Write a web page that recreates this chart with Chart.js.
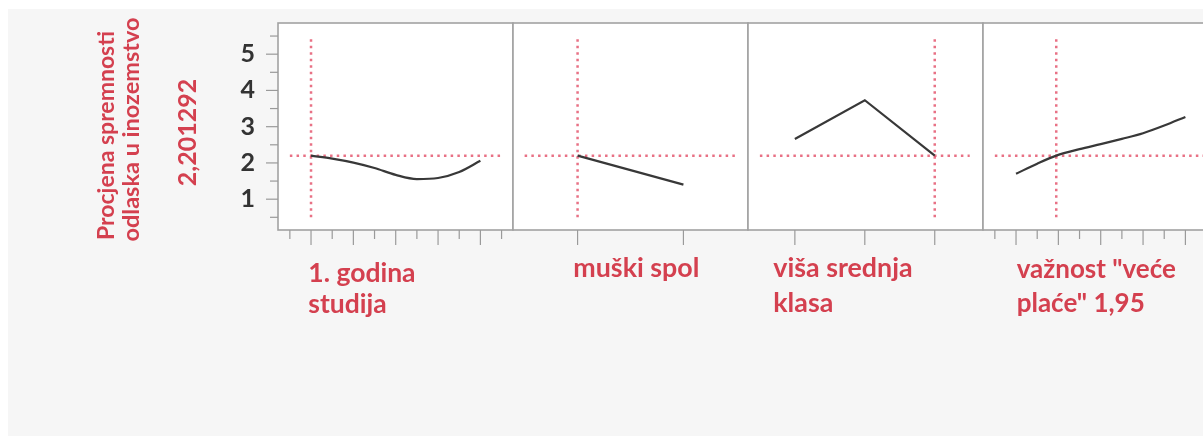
<!DOCTYPE html>
<html>
<head>
<meta charset="utf-8">
<script src="https://cdn.jsdelivr.net/npm/chart.js@4.4.1/dist/chart.umd.min.js"></script>
<style>
  html, body { margin: 0; padding: 0; background: #ffffff; overflow: hidden; width: 1203px; height: 436px; }
  #stage { position: relative; width: 1240px; height: 436px; }
  #backdrop { position: absolute; left: 8px; top: 9px; width: 1232px; height: 427px; background: #f6f6f6; }
  canvas { position: absolute; top: 0; }
</style>
</head>
<body>
<div id="stage">
  <div id="backdrop"></div>
  <canvas id="pYear" width="514" height="436" style="left:0px"></canvas>
  <canvas id="pGender" width="237" height="436" style="left:512px"></canvas>
  <canvas id="pClass" width="237" height="436" style="left:747px"></canvas>
  <canvas id="pPay" width="237" height="436" style="left:982px"></canvas>
</div>
<script>
// Predicted response at the current factor settings
const predictedValue = 2.201292;

// Response axis
const responseRange = [0.15, 5.86];
const responseTickLabels = ['1', '2', '3', '4', '5'];

// 1. godina studija
const yearX = [1, 1.5, 2, 2.5, 3, 3.5, 4, 4.5, 5];
const yearY = [2.201292, 2.12, 2.01, 1.86, 1.67, 1.555, 1.585, 1.75, 2.06];
const yearCurrent = 1;
const yearRange = [0.22, 5.77];

// muški spol
const genderX = [0, 1];
const genderY = [2.201292, 1.40];
const genderCurrent = 0;
const genderRange = [-0.61, 1.61];

// viša srednja klasa
const classX = [0, 1, 2];
const classY = [2.66, 3.73, 2.201292];
const classCurrent = 2;
const classRange = [-0.67, 2.69];

// važnost "veće plaće"
const payX = [1, 1.5, 1.95, 2.5, 3, 3.5, 4, 4.5, 5];
const payY = [1.70, 1.98, 2.201292, 2.38, 2.52, 2.665, 2.82, 3.03, 3.27];
const payCurrent = 1.95;
const payRange = [0.22, 5.77];

const RED = '#d4404f';
const CROSS = 'rgba(226, 78, 102, 0.8)';
const FRAME = '#a2a2a2';
const TICK = '#9a9a9a';
const FONT = 'Lato, "Open Sans", sans-serif';

const toPoints = (xs, ys) => xs.map((x, i) => ({ x, y: ys[i] }));

// White plotting panel with a grey frame
const framePlugin = {
  id: 'panelFrame',
  beforeDraw(chart) {
    const { ctx, chartArea: a } = chart;
    ctx.save();
    ctx.fillStyle = '#ffffff';
    ctx.fillRect(a.left, a.top, a.right - a.left, a.bottom - a.top);
    ctx.restore();
  },
  afterDraw(chart) {
    const { ctx, chartArea: a } = chart;
    ctx.save();
    ctx.strokeStyle = FRAME;
    ctx.lineWidth = 1.6;
    ctx.strokeRect(a.left, a.top, a.right - a.left, a.bottom - a.top);
    ctx.restore();
  }
};

// Tick marks: longer on whole values, shorter on halves
const tickPlugin = {
  id: 'profileTicks',
  afterDraw(chart) {
    const { ctx, chartArea: a } = chart;
    const isWhole = v => Math.abs(v - Math.round(v)) < 1e-6;
    ctx.save();
    ctx.strokeStyle = TICK;
    ctx.lineWidth = 1.2;
    const xs = chart.scales.x;
    xs.ticks.forEach(t => {
      const px = xs.getPixelForValue(t.value);
      const len = isWhole(t.value) ? 15 : 9;
      ctx.beginPath();
      ctx.moveTo(px, a.bottom);
      ctx.lineTo(px, a.bottom + len);
      ctx.stroke();
    });
    const ys = chart.scales.y;
    if (ys.options.display) {
      ys.ticks.forEach(t => {
        const py = ys.getPixelForValue(t.value);
        const len = isWhole(t.value) ? 12 : 8;
        ctx.beginPath();
        ctx.moveTo(a.left, py);
        ctx.lineTo(a.left - len, py);
        ctx.stroke();
      });
    }
    ctx.restore();
  }
};

// Factor names and response title
const textPlugin = {
  id: 'profileText',
  afterDraw(chart, args, opts) {
    const { ctx, chartArea: a } = chart;
    ctx.save();
    ctx.fillStyle = RED;
    (opts.items || []).forEach(it => {
      ctx.save();
      ctx.font = `bold ${it.size}px ${FONT}`;
      ctx.translate(a.left + it.dx, it.y);
      if (it.rotate) ctx.rotate(-Math.PI / 2);
      ctx.textAlign = it.align || 'left';
      ctx.textBaseline = it.baseline || 'alphabetic';
      ctx.fillText(it.text, 0, 0);
      ctx.restore();
    });
    ctx.restore();
  }
};

function buildPanel(id, opt) {
  const curve = {
    data: toPoints(opt.xs, opt.ys),
    borderColor: '#383838',
    borderWidth: 2.2,
    pointRadius: 0,
    fill: false,
    tension: opt.smooth ? 0.4 : 0,
    cubicInterpolationMode: opt.smooth ? 'monotone' : 'default'
  };
  const crossH = {
    data: [{ x: opt.crossFrom, y: predictedValue }, { x: opt.crossTo, y: predictedValue }],
    borderColor: CROSS,
    borderWidth: 2.5,
    borderDash: [2.5, 4.2],
    pointRadius: 0,
    fill: false
  };
  const crossV = {
    data: [{ x: opt.current, y: 0.5 }, { x: opt.current, y: 5.5 }],
    borderColor: CROSS,
    borderWidth: 2.5,
    borderDash: [2.5, 4.0],
    pointRadius: 0,
    fill: false
  };
  return new Chart(document.getElementById(id), {
    type: 'line',
    data: { datasets: [curve, crossV, crossH] },
    options: {
      responsive: false,
      animation: false,
      events: [],
      layout: { padding: { left: opt.padLeft, right: 1, top: 23, bottom: 0 } },
      scales: {
        x: {
          type: 'linear',
          min: opt.range[0],
          max: opt.range[1],
          grid: { display: false, drawTicks: false },
          border: { display: false },
          ticks: { display: false, stepSize: opt.step, includeBounds: false, autoSkip: false },
          afterFit: s => { s.height = 206; s.paddingLeft = 0; s.paddingRight = 0; }
        },
        y: {
          type: 'linear',
          display: opt.showY,
          min: responseRange[0],
          max: responseRange[1],
          grid: { display: false, drawTicks: false },
          border: { display: false },
          ticks: {
            stepSize: 0.5,
            includeBounds: false,
            autoSkip: false,
            padding: 23,
            color: '#333333',
            font: { family: FONT, size: 25, weight: 'bold' },
            callback: v => {
              const i = responseTickLabels.indexOf(String(v));
              return i >= 0 ? responseTickLabels[i] : '';
            }
          },
          afterFit: s => {
            s.width = opt.showY ? 278 : 0;
            s.paddingTop = 0;
            s.paddingBottom = 0;
          }
        }
      },
      plugins: {
        legend: { display: false },
        tooltip: { enabled: false },
        profileText: { items: opt.texts }
      }
    },
    plugins: [framePlugin, tickPlugin, textPlugin]
  });
}

buildPanel('pYear', {
  xs: yearX, ys: yearY, current: yearCurrent, range: yearRange, step: 0.5,
  crossFrom: 0.5, crossTo: 5.5, smooth: true, showY: true, padLeft: 0,
  texts: [
    { text: 'Procjena spremnosti', dx: -171.3, y: 240, rotate: true, baseline: 'middle', size: 23 },
    { text: 'odlaska u inozemstvo', dx: -146.3, y: 241.5, rotate: true, baseline: 'middle', size: 23.5 },
    { text: '2,201292', dx: -89.7, y: 132.5, rotate: true, align: 'center', baseline: 'middle', size: 25 },
    { text: '1. godina', dx: 30.3, y: 282, size: 26.5 },
    { text: 'studija', dx: 30.3, y: 313, size: 26.5 }
  ]
});

buildPanel('pGender', {
  xs: genderX, ys: genderY, current: genderCurrent, range: genderRange, step: 1,
  crossFrom: -0.5, crossTo: 1.5, smooth: false, showY: false, padLeft: 1,
  texts: [
    { text: 'muški spol', dx: 60.3, y: 277, size: 26.8 }
  ]
});

buildPanel('pClass', {
  xs: classX, ys: classY, current: classCurrent, range: classRange, step: 1,
  crossFrom: -0.5, crossTo: 2.5, smooth: false, showY: false, padLeft: 1,
  texts: [
    { text: 'viša srednja', dx: 25.3, y: 277, size: 26.8 },
    { text: 'klasa', dx: 25.3, y: 312, size: 26.8 }
  ]
});

buildPanel('pPay', {
  xs: payX, ys: payY, current: payCurrent, range: payRange, step: 0.5,
  crossFrom: 0.5, crossTo: 5.5, smooth: true, showY: false, padLeft: 1,
  texts: [
    { text: 'važnost "veće', dx: 33.7, y: 278, size: 26 },
    { text: 'plaće" 1,95', dx: 33.7, y: 312, size: 26 }
  ]
});
</script>
</body>
</html>
